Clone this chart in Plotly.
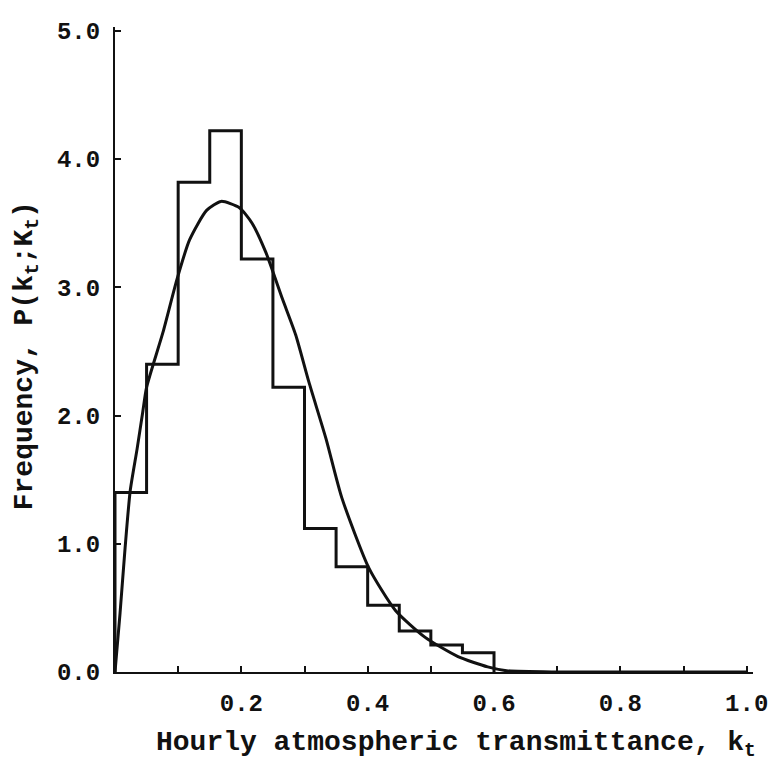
import plotly.graph_objects as go

# Histogram (bin width 0.05)
bin_edges = [0.0, 0.05, 0.10, 0.15, 0.20, 0.25, 0.30, 0.35, 0.40, 0.45, 0.50, 0.55, 0.60]
frequencies = [1.40, 2.40, 3.82, 4.22, 3.22, 2.22, 1.12, 0.82, 0.52, 0.32, 0.21, 0.15]

# Fitted distribution curve
curve_kt = [0.0, 0.008, 0.016, 0.024, 0.035, 0.044, 0.05, 0.076, 0.098, 0.118, 0.145,
            0.168, 0.197, 0.217, 0.239, 0.265, 0.286, 0.307, 0.334, 0.359, 0.402,
            0.444, 0.491, 0.543, 0.59, 0.62, 0.70, 1.0]
curve_p = [0.0, 0.46, 0.97, 1.41, 1.74, 2.03, 2.22, 2.65, 3.06, 3.37, 3.60,
           3.67, 3.62, 3.50, 3.27, 2.91, 2.63, 2.26, 1.82, 1.36, 0.81,
           0.48, 0.27, 0.12, 0.04, 0.01, 0.0, 0.0]

x_tickvals = [0.2, 0.4, 0.6, 0.8, 1.0]
x_ticktext = ["0.2", "0.4", "0.6", "0.8", "1.0"]
x_minor_tickvals = [0.1, 0.3, 0.5, 0.7, 0.9]
y_tickvals = [0.0, 1.0, 2.0, 3.0, 4.0, 5.0]
y_ticktext = ["0.0", "1.0", "2.0", "3.0", "4.0", "5.0"]

FONT = "Liberation Mono, Courier New, monospace"
INK = "#111111"

# step outline of histogram
hx = [bin_edges[0]] + bin_edges[:-1] + [bin_edges[-1], bin_edges[-1]]
hy = [0.0] + frequencies + [frequencies[-1], 0.0]

fig = go.Figure()
fig.add_trace(go.Scatter(x=hx, y=hy, mode="lines", line=dict(shape="hv", color=INK, width=3),
                         hoverinfo="skip", showlegend=False))
fig.add_trace(go.Scatter(x=curve_kt, y=curve_p, mode="lines",
                         line=dict(shape="spline", smoothing=0.6, color=INK, width=3),
                         showlegend=False))

fig.update_layout(
    width=780, height=767,
    margin=dict(l=115, r=23, t=27, b=95),
    plot_bgcolor="white", paper_bgcolor="white",
    font=dict(family=FONT, color=INK, size=24, weight="bold"),
    showlegend=False,
)
fig.update_xaxes(range=[0, 1.01], showline=True, linewidth=2, linecolor=INK, mirror=False,
                 ticks="inside", ticklen=6, tickwidth=2, tickcolor=INK,
                 tickvals=x_tickvals, ticktext=x_ticktext, showgrid=False, zeroline=False,
                 minor=dict(tickvals=x_minor_tickvals, ticks="inside", ticklen=6,
                            tickwidth=2, tickcolor=INK, showgrid=False),
                 ticklabelstandoff=8,
                 tickfont=dict(family=FONT, size=24, color=INK, weight="bold"))
fig.update_yaxes(range=[0, 5.03], showline=True, linewidth=2, linecolor=INK,
                 ticks="inside", ticklen=6, tickwidth=2, tickcolor=INK,
                 tickvals=y_tickvals, ticktext=y_ticktext, showgrid=False, zeroline=False,
                 ticklabelstandoff=8,
                 tickfont=dict(family=FONT, size=24, color=INK, weight="bold"))

fig.add_annotation(text="Hourly atmospheric transmittance, k<sub>t</sub>",
                   xref="paper", yref="paper", x=0.535, y=-0.082, yanchor="top",
                   showarrow=False, font=dict(family=FONT, size=28, color=INK, weight="bold"))
fig.add_annotation(text="Frequency, P(k<sub>t</sub>;K<sub>t</sub>)",
                   xref="paper", yref="paper", x=-0.168, y=0.49, textangle=-90,
                   showarrow=False, font=dict(family=FONT, size=28, color=INK, weight="bold"))

fig.write_html("out.html")
